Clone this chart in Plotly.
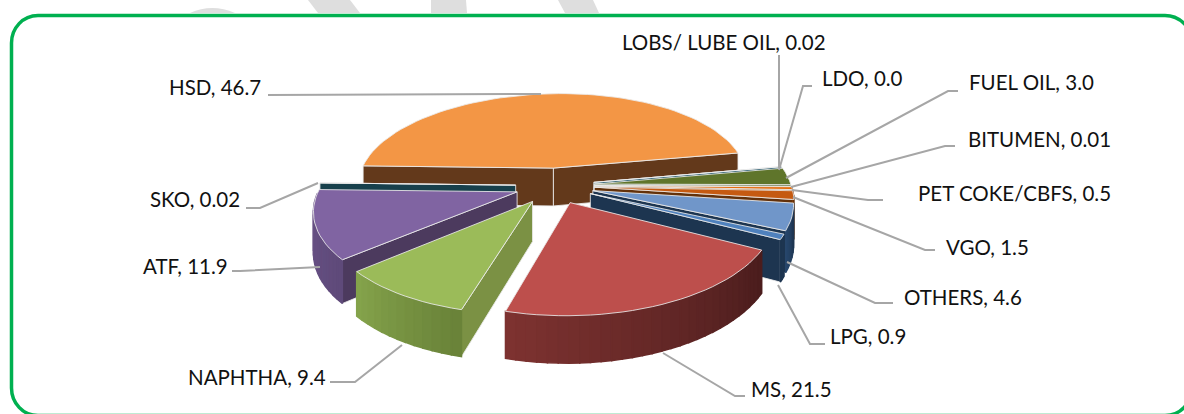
import math
import plotly.graph_objects as go

names = ["HSD", "LOBS/ LUBE OIL", "LDO", "FUEL OIL", "BITUMEN", "PET COKE/CBFS", "VGO",
         "OTHERS", "LPG", "MS", "NAPHTHA", "ATF", "SKO"]
values = [46.7, 0.02, 0.0, 3.0, 0.01, 0.5, 1.5, 4.6, 0.9, 21.5, 9.4, 11.9, 0.02]

top_colors = ["#f39645", "#1f6f8b", "#4f6228", "#5f752b", "#31859c", "#e46c0a", "#c55a11",
              "#7096c9", "#4f81bd", "#bd4f4c", "#9bbb59", "#8064a2", "#215968"]
rim_left = ["#7a4a22", "#174f63", "#3b4a1e", "#4f6228", "#215968", "#984807", "#843c0c",
            "#27466b", "#1d3550", "#7d3230", "#84a34b", "#6b5488", "#17404c"]
rim_right = ["#63391b", "#174f63", "#3b4a1e", "#4f6228", "#215968", "#984807", "#63310a",
             "#1d3550", "#1d3550", "#4b1d1d", "#6a8339", "#5f4a7a", "#17404c"]
radial = ["#63391b", "#174f63", "#3b4a1e", "#4f6228", "#215968", "#984807", "#63310a",
          "#1d3550", "#1d3550", "#4b1d1d", "#7b9144", "#4c3a5e", "#17404c"]

draw_order = [0, 12, 11, 1, 2, 3, 4, 5, 6, 7, 8, 10, 9]

label_xy = [(215, 87), (724, 42), (862, 78), (1031, 82), (1039, 139), (1014, 193),
            (987, 247), (963, 297), (868, 336), (791, 389), (257, 377), (185, 266), (195, 199)]
leaders = [[(268, 95), (541, 94)],
           [(779, 55), (779, 168)],
           [(812, 86), (803, 86), (779, 170)],
           [(958, 91), (948, 91), (786, 178)],
           [(955, 146), (945, 146), (791, 187)],
           [(883, 200), (868, 200), (792, 190)],
           [(935, 250), (925, 250), (793, 197)],
           [(893, 303), (875, 303), (787, 262)],
           [(825, 344), (810, 344), (778, 285)],
           [(745, 396), (735, 396), (663, 353)],
           [(330, 382), (355, 382), (402, 345)],
           [(232, 271), (240, 271), (320, 267)],
           [(246, 208), (260, 208), (318, 183)]]
watermark = ["M 190 13 Q 212 3 235 13 Z", "M 308 0 L 350 0 L 360 13 L 318 13 Z",
             "M 431 0 L 466 0 L 467 13 L 431 13 Z", "M 558 0 L 593 0 L 599 13 L 565 13 Z"]

CX, CY, A, B, K, E, DEPTH, SHEAR = 555, 185.6, 197, 90.5, 0.15, 0.2, 39, 7
START = -88.5


def project(u, v):
    s = 1 / (1 - K * v)
    return CX + A * u * s - SHEAR * v, CY + B * v * s, DEPTH * s


def poly(xs, ys, color, line="rgba(235,235,235,0.85)", width=1):
    xs = list(xs) + [xs[0]]
    ys = list(ys) + [ys[0]]
    return go.Scatter(x=xs, y=ys, mode="lines", fill="toself", fillcolor=color,
                      line=dict(color=line, width=width), hoverinfo="skip", showlegend=False)


def mix(c1, c2, t):
    a = [int(c1[i:i + 2], 16) for i in (1, 3, 5)]
    b = [int(c2[i:i + 2], 16) for i in (1, 3, 5)]
    return "#%02x%02x%02x" % tuple(round(p + (q - p) * t) for p, q in zip(a, b))


total = sum(values)
fig = go.Figure()

bounds = []
cum = START
for val in values:
    span = val / total * 360
    bounds.append((cum, cum + span))
    cum += span

for i in draw_order:
    if values[i] <= 0:
        continue
    t0, t1 = bounds[i]
    mid = math.radians((t0 + t1) / 2)
    ou, ov = E * math.sin(mid), -E * math.cos(mid)
    n = max(2, int((t1 - t0) / 2.5))
    angles = [math.radians(t0 + (t1 - t0) * j / n) for j in range(n + 1)]
    rim = [project(ou + math.sin(a), ov - math.cos(a)) for a in angles]
    ax, ay, ad = project(ou, ov)
    # radial faces: only those turned towards the viewer
    if math.sin(angles[0]) < 0:
        px, py, pd = rim[0]
        fig.add_trace(poly([ax, px, px, ax], [ay, py, py + pd, ay + ad], radial[i]))
    if math.sin(angles[-1]) > 0:
        px, py, pd = rim[-1]
        fig.add_trace(poly([ax, px, px, ax], [ay, py, py + pd, ay + ad], radial[i]))
    # outer wall: only the part facing the viewer, shaded left to right on screen
    facing = [j for j in range(n) if math.cos((angles[j] + angles[j + 1]) / 2) < 0]
    ordered = sorted(facing, key=lambda j: rim[j][0])
    for rank, j in enumerate(ordered):
        p, q = rim[j], rim[j + 1]
        colr = mix(rim_left[i], rim_right[i], rank / max(1, len(ordered) - 1))
        fig.add_trace(poly([p[0], q[0], q[0], p[0]], [p[1], q[1], q[1] + q[2], p[1] + p[2]],
                           colr, line=colr, width=1.5))
    # top face
    fig.add_trace(poly([ax] + [r[0] for r in rim], [ay] + [r[1] for r in rim], top_colors[i]))

for pts in leaders:
    fig.add_trace(go.Scatter(x=[p[0] for p in pts], y=[p[1] for p in pts], mode="lines",
                             line=dict(color="#a6a6a6", width=2), hoverinfo="skip", showlegend=False))

for name, val, (x, y) in zip(names, values, label_xy):
    fig.add_annotation(x=x, y=y, text=f"{name}, {val}", showarrow=False,
                       xanchor="center", yanchor="middle",
                       font=dict(family="Lato", size=20.5, color="#111111"))

# page furniture: watermark remnants above the frame, then the rounded green frame
for path in watermark:
    fig.add_shape(type="path", layer="below", path=path, line=dict(width=0), fillcolor="#dedede")
fig.add_shape(type="path", layer="below",
              path="M 11.5 388 L 11.5 43 C 11.5 28 23 15.5 38 15.5 L 1165 15.5 C 1180 15.5 1192 28 1192 43 "
                   "L 1192 388 C 1192 403 1180 415.5 1165 415.5 L 38 415.5 C 23 415.5 11.5 403 11.5 388 Z",
              line=dict(color="#00b050", width=3.5), fillcolor="white")

fig.update_layout(width=1184, height=414, autosize=False,
                  margin=dict(l=0, r=0, t=0, b=0), paper_bgcolor="white", plot_bgcolor="rgba(0,0,0,0)",
                  showlegend=False,
                  xaxis=dict(range=[0, 1184], visible=False, fixedrange=True),
                  yaxis=dict(range=[414, 0], visible=False, fixedrange=True))
fig.write_html("out.html", config=dict(displayModeBar=False),
               post_script="document.body.style.margin='0';document.body.style.overflow='hidden';")
